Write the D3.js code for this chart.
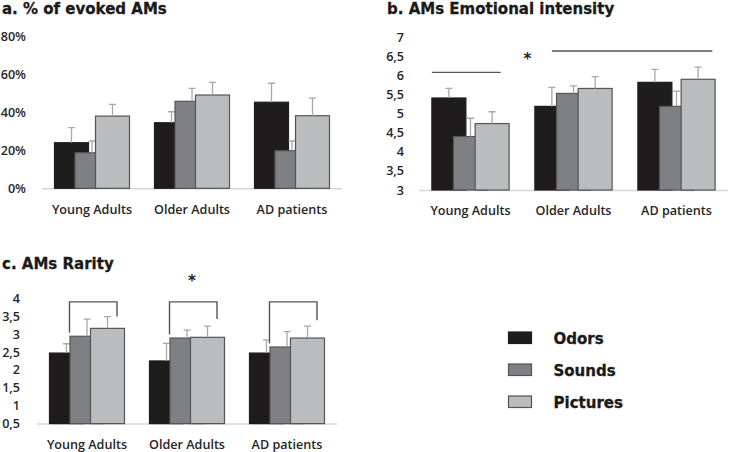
<!DOCTYPE html>
<html>
<head>
<meta charset="utf-8">
<script src="https://cdn.jsdelivr.net/npm/d3@7"></script>
<style>
  body { margin: 0; background: #fff; }
  svg { display: block; }
  .tick-label, .cat-label { font-family: "Open Sans", sans-serif; font-size: 12.6px; font-weight: 600; fill: #262626; }
  .title, .legend-label { font-family: "DejaVu Sans", sans-serif; font-weight: bold; fill: #1a1a1a; stroke: #1a1a1a; stroke-width: 0.3px; }
</style>
</head>
<body>
<script>
// groups and series
var groups = ["Young Adults", "Older Adults", "AD patients"];
var series = ["Odors", "Sounds", "Pictures"];
var colors = ["#1f1c1d", "#7f8083", "#bbbcbe"];

// a. % of evoked AMs (means, error)
var evokedOdors = [24.0, 34.5, 45.3];
var evokedSounds = [18.7, 45.8, 19.8];
var evokedPictures = [38.0, 49.1, 38.2];
var evokedOdorsErr = [7.9, 5.8, 10.0];
var evokedSoundsErr = [6.2, 6.8, 5.1];
var evokedPicturesErr = [6.2, 6.7, 9.3];
var evokedTicks = [0, 20, 40, 60, 80];

// b. emotional intensity
var intensityOdors = [5.41, 5.19, 5.82];
var intensitySounds = [4.40, 5.53, 5.19];
var intensityPictures = [4.74, 5.66, 5.90];
var intensityOdorsErr = [0.25, 0.50, 0.34];
var intensitySoundsErr = [0.48, 0.20, 0.40];
var intensityPicturesErr = [0.31, 0.31, 0.32];
var intensityTicks = [3, 3.5, 4, 4.5, 5, 5.5, 6, 6.5, 7];

// c. rarity
var rarityOdors = [2.47, 2.25, 2.47];
var raritySounds = [2.94, 2.89, 2.64];
var rarityPictures = [3.16, 2.91, 2.89];
var rarityOdorsErr = [0.26, 0.49, 0.37];
var raritySoundsErr = [0.48, 0.22, 0.43];
var rarityPicturesErr = [0.33, 0.31, 0.33];
var rarityTicks = [0.5, 1, 1.5, 2, 2.5, 3, 3.5, 4];
var rarityBracketRight = [3.49, 3.42, 3.39];

var svg = d3.select("body").append("svg").attr("width", 729).attr("height", 452);

var comma = function(d) { return String(d).replace(".", ","); };

function panel(opt) {
    var g = svg.append("g");
    var x = d3.scaleBand().domain(groups).range(opt.xr).paddingInner(0.25).paddingOuter(0.125);
    var y = d3.scaleLinear().domain(opt.domain).range(opt.yr);
    var bw = 34;
    var inner = d3.scalePoint().domain(series).range([0, x.bandwidth() - bw]);

    g.append("text").attr("class", "title")
        .attr("x", opt.titleX).attr("y", opt.titleY)
        .style("font-size", "15px").text(opt.title);

    // y tick labels, no axis line
    g.selectAll(".tick-label").data(opt.ticks).enter().append("text")
        .attr("class", "tick-label")
        .attr("x", opt.labelX).attr("y", function(d) { return y(d); })
        .attr("dy", "0.36em").attr("text-anchor", "end")
        .text(opt.fmt);

    g.append("line")
        .attr("x1", opt.xr[0]).attr("x2", opt.xr[1])
        .attr("y1", y(opt.domain[0]) + 0.5).attr("y2", y(opt.domain[0]) + 0.5)
        .attr("stroke", "#d6d6d6").attr("stroke-width", 1.5);

    opt.values.forEach(function(vals, si) {
        var s = series[si];
        var sg = g.append("g");
        sg.selectAll("rect").data(vals).enter().append("rect")
            .attr("x", function(d, i) { return x(groups[i]) + inner(s); })
            .attr("y", function(d) { return y(d); })
            .attr("width", bw)
            .attr("height", function(d) { return y(opt.domain[0]) - y(d); })
            .attr("fill", colors[si])
            .attr("stroke", si == 0 ? "#1f1c1d" : "#555")
            .attr("stroke-width", 1.2);
        var errs = opt.errors[si];
        sg.selectAll(".err").data(vals).enter().append("path")
            .attr("class", "err")
            .attr("d", function(d, i) {
                var cx = x(groups[i]) + inner(s) + bw / 2,
                    top = y(d + errs[i]);
                return "M" + cx + "," + y(d) + "V" + top + "M" + (cx - 3.5) + "," + top + "H" + (cx + 3.5);
            })
            .attr("fill", "none").attr("stroke", "#a8a8a8").attr("stroke-width", 1.3);
    });

    g.selectAll(".cat-label").data(groups).enter().append("text")
        .attr("class", "cat-label")
        .attr("x", function(d) { return x(d) + x.bandwidth() / 2; })
        .attr("y", opt.catY).attr("text-anchor", "middle")
        .text(function(d) { return d; });

    return {g: g, x: x, y: y, inner: inner, bw: bw};
}

panel({
    title: "a. % of evoked AMs", titleX: 2, titleY: 14,
    xr: [42, 342], yr: [188.3, 36.3], domain: [0, 80],
    ticks: evokedTicks, fmt: function(d) { return d + "%"; }, labelX: 26,
    values: [evokedOdors, evokedSounds, evokedPictures],
    errors: [evokedOdorsErr, evokedSoundsErr, evokedPicturesErr],
    catY: 213.5
});

var pb = panel({
    title: "b. AMs Emotional intensity", titleX: 387, titleY: 14,
    xr: [419, 728], yr: [190, 37.3], domain: [3, 7],
    ticks: intensityTicks, fmt: comma, labelX: 404,
    values: [intensityOdors, intensitySounds, intensityPictures],
    errors: [intensityOdorsErr, intensitySoundsErr, intensityPicturesErr],
    catY: 215
});

// significance lines in b
pb.g.append("line")
    .attr("x1", pb.x(groups[0])).attr("x2", pb.x(groups[0]) + pb.inner("Pictures") + pb.bw * 0.75)
    .attr("y1", pb.y(6.08)).attr("y2", pb.y(6.08))
    .attr("stroke", "#555").attr("stroke-width", 1.4);
pb.g.append("line")
    .attr("x1", pb.x(groups[1]) + pb.bw / 2).attr("x2", pb.x(groups[2]) + pb.inner("Pictures") + pb.bw * 0.92)
    .attr("y1", pb.y(6.64)).attr("y2", pb.y(6.64))
    .attr("stroke", "#555").attr("stroke-width", 1.4);
pb.g.append("text")
    .attr("x", pb.x(groups[1]) - 7.5).attr("y", pb.y(6.46) + 6)
    .attr("text-anchor", "middle")
    .style("font-family", "DejaVu Sans").style("font-weight", "bold").style("font-size", "15px")
    .attr("fill", "#222").text("*");

var pc = panel({
    title: "c. AMs Rarity", titleX: 2, titleY: 268.5,
    xr: [37, 337], yr: [423.6, 298.3], domain: [0.5, 4],
    ticks: rarityTicks, fmt: comma, labelX: 20,
    values: [rarityOdors, raritySounds, rarityPictures],
    errors: [rarityOdorsErr, raritySoundsErr, rarityPicturesErr],
    catY: 449
});

// brackets in c
pc.g.selectAll(".bracket").data(groups).enter().append("path")
    .attr("class", "bracket")
    .attr("d", function(d, i) {
        var x0 = pc.x(d) + pc.inner("Sounds") - 0.5,
            x1 = pc.x(d) + pc.inner("Pictures") + pc.bw * 0.78,
            top = pc.y(3.9);
        return "M" + x0 + "," + pc.y(raritySounds[i] + 0.1) + "V" + top + "H" + x1 + "V" + pc.y(rarityBracketRight[i]);
    })
    .attr("fill", "none").attr("stroke", "#555").attr("stroke-width", 1.4);
pc.g.append("text")
    .attr("x", pc.x(groups[1]) + pc.x.bandwidth() / 2 + 5).attr("y", 285.5)
    .attr("text-anchor", "middle")
    .style("font-family", "DejaVu Sans").style("font-weight", "bold").style("font-size", "15px")
    .attr("fill", "#222").text("*");

// legend
var legend = svg.append("g").attr("transform", "translate(508.5,332)");
var items = legend.selectAll("g").data(series).enter().append("g")
    .attr("transform", function(d, i) { return "translate(0," + i * 32 + ")"; });
items.append("rect")
    .attr("width", 23).attr("height", 11.5)
    .attr("fill", function(d, i) { return colors[i]; })
    .attr("stroke", function(d, i) { return i == 0 ? "#1f1c1d" : "#555"; })
    .attr("stroke-width", 1.2);
items.append("text").attr("class", "legend-label")
    .attr("x", 45).attr("y", 11.5)
    .style("font-size", "15px")
    .text(function(d) { return d; });
</script>
</body>
</html>
